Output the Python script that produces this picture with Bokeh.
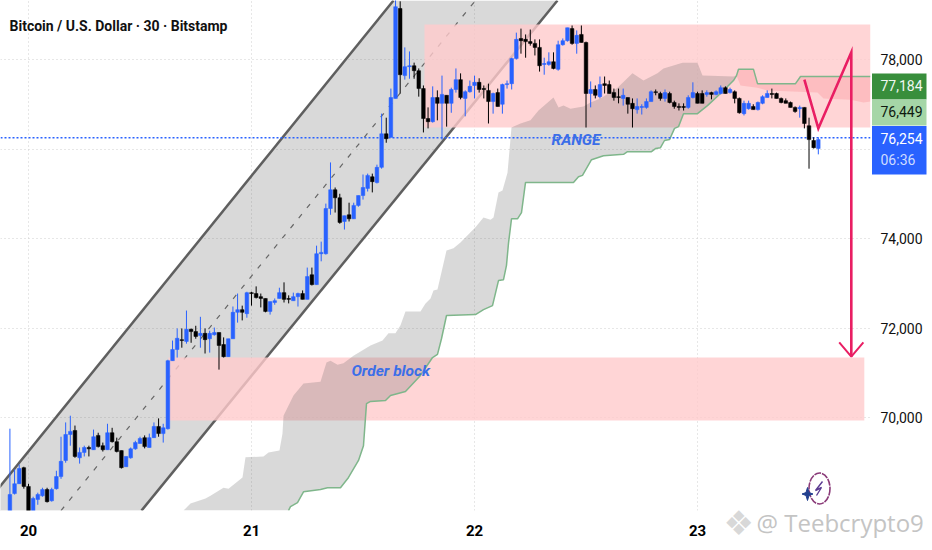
from bokeh.plotting import figure
from bokeh.embed import file_html
from bokeh.resources import INLINE
from bokeh.models import Range1d, LinearAxis, FixedTicker, NumeralTickFormatter, Label, ColumnDataSource, Span

first_index = -4
opens = [67810,68300,68520,68880,68460,67880,68170,68250,68390,68140,
 68410,68680,69040,69620,69710,69100,69220,69330,69280,69600,
 69370,69280,69660,69460,69260,68900,69100,69300,69420,69550,
 69330,69550,69800,69640,69750,71270,71520,71740,71700,71970,
 71920,71830,71880,71760,71850,71900,71630,71360,71760,72350,
 72410,72320,72790,72770,72700,72660,72370,72570,72660,72790,
 72660,72610,72700,72770,72640,73190,72970,73660,73660,74670,
 75090,74910,74380,74530,74440,74740,74960,75120,75380,75250,
 75590,76340,76260,77130,79140,77640,77840,77860,77750,77350,
 76680,76610,77150,77020,77200,77020,77330,77550,77130,77280,
 77420,77490,77350,77310,77060,77260,77000,77440,77460,78020,
 78470,78450,78400,78360,78270,77890,77890,77950,77780,78330,
 78420,78690,78360,78560,78380,77240,77330,77170,77460,77440,
 77260,77170,77130,77150,77020,76880,76930,76930,77060,77280,
 77240,77130,77240,77040,76950,76950,76930,77150,77240,77240,
 77220,77260,77220,77240,77370,77260,77280,77130,76790,76900,
 76950,76880,77020,77150,77240,77240,77130,77080,77040,76930,
 76900,76930,76520,76190,76010]
highs = [69750,68840,68950,68900,68520,68230,68320,68430,68430,68430,
 68810,69570,69890,70040,69820,69330,69370,69370,69730,69660,
 69440,69860,69770,69550,69260,69130,69330,69480,69570,69600,
 69640,69890,69980,69860,71290,71720,71990,71990,72390,71990,
 72050,72250,71990,71940,72010,71900,71790,71760,72480,72770,
 72500,72810,72810,72930,72770,72660,72590,72660,72900,73020,
 72730,72790,72790,72840,73350,73350,73840,73930,74780,75700,
 75140,75000,74510,74800,74800,74960,75430,75450,75450,75650,
 76790,76700,77350,79430,79300,78270,78180,77930,77800,77420,
 76930,77400,77310,77640,77200,77370,77800,77690,77310,77530,
 77640,77580,77420,77460,77260,77350,77460,77530,78040,78600,
 78690,78560,78670,78450,78450,78040,78160,78160,78420,78470,
 78710,78760,78650,78760,78400,77510,77420,77620,77620,77530,
 77350,77350,77350,77150,77130,77130,77000,77130,77310,77330,
 77280,77330,77280,77080,77020,77020,77200,77490,77280,77310,
 77310,77280,77310,77420,77400,77370,77310,77150,77080,77080,
 77000,77060,77200,77310,77350,77260,77150,77130,77060,76950,
 76970,76930,76700,76260,76260]
lows = [67700,68280,68520,68410,67740,67810,68050,68230,68100,68120,
 68390,68630,68990,69370,69100,68970,69130,69130,69280,69330,
 69240,69280,69440,69220,68860,68900,69080,69280,69420,69310,
 69330,69550,69570,69440,69730,71270,71340,71560,71650,71670,
 71760,71560,71430,71450,71830,71070,71340,71360,71760,72120,
 72170,72230,72500,72660,72460,72350,72300,72520,72660,72570,
 72550,72610,72480,72640,72640,72950,72970,73490,73640,74530,
 74580,74330,74200,74380,74440,74710,74870,75050,75030,75230,
 75560,76140,76260,77130,77240,77550,77570,77570,77170,76370,
 76460,76590,76640,76210,76500,76810,77260,77110,76730,77260,
 77130,77260,77130,76570,76790,76950,76790,77350,77330,78000,
 78130,78040,78310,78090,77730,77660,77860,77780,77750,78310,
 78400,78330,78130,78380,76480,76930,77130,77130,77240,77240,
 77080,77020,76970,76790,76480,76790,76770,76900,77060,77200,
 77080,77060,77020,76900,76860,76860,76900,77130,77020,77020,
 77170,77110,77200,77220,77240,77240,77020,76790,76750,76880,
 76880,76860,77000,77150,77130,77130,77020,77020,76930,76810,
 76700,76460,75560,76010,75880]
closes = [68280,68520,68860,68460,67810,68190,68280,68390,68120,68390,
 68680,69020,69620,69690,69130,69220,69330,69300,69570,69350,
 69280,69660,69460,69240,68880,69130,69300,69440,69530,69350,
 69550,69800,69640,69770,71270,71520,71770,71720,71970,71920,
 71810,71880,71740,71880,71900,71610,71360,71760,72350,72410,
 72350,72790,72770,72680,72660,72370,72590,72610,72790,72640,
 72640,72700,72770,72640,73150,72970,73660,73690,74670,75090,
 74910,74360,74510,74440,74740,74960,75140,75410,75270,75590,
 76340,76230,77150,79180,77660,77840,77860,77750,77350,76680,
 76610,77150,77020,77220,77020,77330,77550,77150,77280,77400,
 77490,77330,77330,77060,77240,76950,77440,77460,78020,78450,
 78420,78400,78360,78270,77860,77910,77950,77800,78330,78420,
 78710,78360,78540,78380,77240,77330,77200,77440,77420,77240,
 77150,77150,77200,77000,76900,76950,76950,77060,77280,77260,
 77130,77260,77040,76950,76930,76930,77150,77260,77020,77020,
 77260,77220,77280,77370,77240,77330,77130,76810,77020,77020,
 76880,77040,77170,77240,77220,77130,77040,77020,76930,76840,
 76930,76570,76210,76030,76210]

day_ticks = [0, 48, 96, 144]
day_labels = ["20", "21", "22", "23"]
price_ticks = [70000, 72000, 74000, 76000, 78000]

cloud_top_x = [33.36,34.87,38.1,39.17,41.97,43.05,46.06,46.71,50.58,51.66,54.02,54.67,54.89,57.04,59.19,62.85,64.14,65.0,66.51,67.8,69.95,73.61,76.2,77.49,78.99,80.07,81.14,84.37,85.45,86.53,87.17,88.03,89.97,91.48,92.98,96.21,97.93,99.44,100.09,101.16,102.02,103.1,103.96,105.9,108.05,109.77,113.0,114.08,115.15,116.66,119.46,120.96,123.12,126.78,130.0,132.37,135.38,136.67,140.77,143.99,145.07,151.74,152.39]
cloud_top_y = [67920,68080,68190,68250,68430,68410,68660,69110,69130,69220,69260,69640,70040,70490,70760,70800,71230,71270,71180,71210,71380,71610,71720,71880,71880,72060,72370,72370,72550,72660,72840,72860,73730,73780,73910,74250,74470,74420,74470,75030,75070,75470,76480,76570,76640,76860,77150,76930,76970,76900,76950,77040,77130,77370,77690,77530,77690,77800,77930,77930,77640,77620,77640]
green_x = [55.96,56.39,57.9,59.19,62.85,64.36,67.15,68.88,71.03,72.1,72.75,73.61,76.84,77.92,81.14,84.37,86.96,88.03,88.89,89.97,96.21,97.93,99.87,101.16,102.24,102.88,103.31,103.96,105.25,106.11,106.97,117.3,118.38,119.24,121.18,123.76,128.07,128.93,134.09,134.95,136.03,136.89,137.97,139.05,139.91,140.98,143.99,146.14,148.94,151.74,152.39,152.82,156.05,156.91,165.09,166.17,181.23]
green_y = [67920,68010,68100,68340,68390,68430,68430,68660,69040,69370,70310,70360,70380,70490,70580,70940,71340,71410,71760,72280,72300,72410,72500,73060,73080,73400,73890,74440,74440,74580,75250,75250,75380,75410,75760,75850,75880,75940,75940,76010,76030,76190,76210,76460,76500,76790,76790,76970,77240,77530,77640,77780,77780,77460,77460,77620,77620]
crossover = 50  # position in green_x where the cloud flips
red_low_x = [152.39,153.25,156.91,159.06,169.82,171.12,176.93,179.73,181.23]
red_low_y = [77640,77420,77370,77310,77260,77130,77100,77040,77060]

channel_upper_x = [-10.33, 78.56]
channel_upper_y = [67919, 79318]
channel_lower_x = [24.32, 113.85]
channel_lower_y = [67919, 79318]
channel_mid_x = [6.99, 96.2]
channel_mid_y = [67919, 79318]

range_zone = (85.23, 181.23, 76480, 78782)
order_zone = (30.1, 179.9, 69931, 71339)
last_price = 76254
path_x = [167.0, 170.0, 177.1, 177.1]
path_y = [77550, 76460, 78160, 71360]
head_x = [174.5, 177.1, 179.7]
head_y = [71680, 71360, 71680]

def X(px):
    return (px - 28) / 4.646
def Y(py):
    return 78000 - (py - 59) * 22.346

BLUE = "#2962ff"
p = figure(width=932, height=550, output_backend="svg", toolbar_location=None,
           x_range=Range1d(X(0), X(932)), y_range=Range1d(Y(550), Y(0)),
           min_border=0, outline_line_color=None, x_axis_location=None, y_axis_location=None)

# axes placed at the edge of the price pane
yax = LinearAxis(ticker=FixedTicker(ticks=price_ticks), formatter=NumeralTickFormatter(format="0,0"), fixed_location=X(870))
yax.major_label_overrides = {76000: ""}
yax.axis_line_color = None
yax.major_tick_line_color = None
yax.minor_tick_line_color = None
yax.major_label_standoff = 4
yax.major_label_text_font = "Roboto"
yax.major_label_text_font_size = "14px"
yax.major_label_text_color = "#111111"
p.add_layout(yax, "right")

xax = LinearAxis(ticker=FixedTicker(ticks=day_ticks), fixed_location=Y(510))
xax.major_label_overrides = dict(zip(day_ticks, day_labels))
xax.axis_line_color = None
xax.major_tick_line_color = None
xax.minor_tick_line_color = None
xax.major_label_standoff = 8
xax.major_label_text_font = "Roboto"
xax.major_label_text_font_style = "bold"
xax.major_label_text_font_size = "15px"
xax.major_label_text_color = "#000000"
p.add_layout(xax, "below")

p.xgrid.ticker = FixedTicker(ticks=day_ticks)
p.ygrid.ticker = FixedTicker(ticks=price_ticks)
for g in (p.xgrid[0], p.ygrid[0]):
    g.grid_line_color = "#cfcfcf"
    g.grid_line_dash = "1 3"
    g.grid_line_width = 1

# channel
p.patch(channel_upper_x + channel_lower_x[::-1], channel_upper_y + channel_lower_y[::-1],
        fill_color="#606060", fill_alpha=0.24, line_color=None)
p.line(channel_upper_x, channel_upper_y, line_color="#5f5f5f", line_width=2.5)
p.line(channel_lower_x, channel_lower_y, line_color="#5f5f5f", line_width=2.5)
p.line(channel_mid_x, channel_mid_y, line_color="#666666", line_width=1.2, line_dash="5 8")

# zones
for z in (range_zone, order_zone):
    p.quad(left=z[0], right=z[1], bottom=z[2], top=z[3], fill_color="#ffcbcc", fill_alpha=0.8, line_color=None)

# cloud
gx_cloud = green_x[:crossover + 1]
gy_cloud = green_y[:crossover + 1]
p.patch(cloud_top_x + gx_cloud[::-1], cloud_top_y + gy_cloud[::-1],
        fill_color="#606060", fill_alpha=0.24, line_color=None)
gx_red = green_x[crossover:]
gy_red = green_y[crossover:]
p.patch(gx_red + red_low_x[::-1], gy_red + red_low_y[::-1],
        fill_color="#f23645", fill_alpha=0.15, line_color=None)
p.line(green_x, green_y, line_color="#7fb68b", line_width=1.5)

# last price line
p.line([X(0), X(870)], [last_price, last_price], line_color="#2962ff", line_width=1.5, line_dash="2 2")

# candles
idx = list(range(first_index, first_index + len(opens)))
cols = [BLUE if c >= o else "#000000" for o, c in zip(opens, closes)]
src = ColumnDataSource(dict(x=idx, o=opens, h=highs, l=lows, c=closes, col=cols,
                            top=[max(a, b) for a, b in zip(opens, closes)],
                            bot=[min(a, b) for a, b in zip(opens, closes)]))
p.segment("x", "h", "x", "l", source=src, line_color="col", line_width=1)
p.vbar(x="x", width=0.78, top="top", bottom="bot", source=src, fill_color="col", line_color="col", line_width=0.5)

# red drawing
p.line(path_x, path_y, line_color="#e91e63", line_width=2.6, line_join="miter")
p.line(head_x, head_y, line_color="#e91e63", line_width=2)

# logo
p.ellipse(x=X(819), y=Y(488), width=21 / 4.646, height=31 * 22.346, fill_color=None,
          line_color="#8a3a78", line_width=1.6, line_dash="7 1")
p.line([X(822), X(815), X(821), X(816)], [Y(481), Y(490), Y(487), Y(495)], line_color="#5a3a90", line_width=1.4)
p.patch([X(807), X(808.5), X(812.5), X(808.5), X(807), X(805.5), X(801.5), X(805.5)],
        [Y(487), Y(492), Y(493.5), Y(495), Y(500), Y(495), Y(493.5), Y(492)],
        fill_color="#22408f", line_color="#22408f")

# white masks so that grid and series stop at the pane edges
p.quad(left=X(870), right=X(932), bottom=Y(550), top=Y(0), fill_color="white", line_color=None)
p.quad(left=X(0), right=X(932), bottom=Y(550), top=Y(510), fill_color="white", line_color=None)

# price tags
def tag(top, bottom, color):
    p.quad(left=X(871.5), right=X(926), top=Y(top), bottom=Y(bottom), fill_color=color, line_color=None)
tag(73, 99, "#388e3c")
tag(99, 125, "#a5d6a7")
tag(125.5, 174, BLUE)

def text(s, px, py, size, color="#111111", font="Roboto", style="normal"):
    p.add_layout(Label(x=X(px), y=Y(py), text=s, text_font=font, text_font_size=size, text_color=color,
                       text_font_style=style, text_baseline="middle", text_align="left", level="overlay"))

text("77,184", 880, 85, "14px", "#f1f8f1")
text("76,449", 880, 111, "14px", "#0e1a10")
text("76,254", 880, 138, "14px", "#ffffff")
text("06:36", 880, 159, "14px", "#cfdcff")
text("Bitcoin / U.S. Dollar \u00b7 30 \u00b7 Bitstamp", 9, 25, "14px", "#111111", style="bold")
text("RANGE", 551, 139, "15.5px", "#3b6ee8", style="bold italic")
text("Order block", 351, 370, "15.5px", "#3b6ee8", style="bold italic")
text("\u2756", 723, 522, "34px", "#d8d8d8", font="DejaVu Sans")
text("@ Teebcrypto9", 756, 522, "24px", "#c4c4c4", font="Open Sans")

open("out.html", "w").write(file_html(p, INLINE))
